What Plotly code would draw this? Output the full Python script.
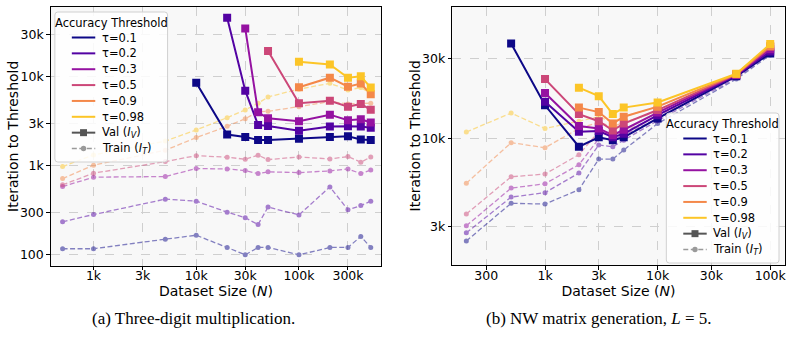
import plotly.graph_objects as go

# ---------------- data ----------------
taus = ["τ=0.1", "τ=0.2", "τ=0.3", "τ=0.5", "τ=0.9", "τ=0.98"]
colors = ["#0d0887", "#5302a3", "#9512a1", "#cc4778", "#f48849", "#fcc527"]

# (a) Three-digit multiplication
N_a = [500, 1000, 5000, 10000, 20000, 30000, 40000, 50000, 100000, 200000, 300000, 400000, 500000]
val_a_01 = [None, None, None, 8600, 2250, 2120, 1960, 1950, 2020, 2110, 2160, 1985, 1955]
val_a_02 = [None, None, None, None, 46400, 7020, 2890, 2810, 2480, 2770, 2800, 2770, 2690]
val_a_03 = [None, None, None, None, None, 35200, 4010, 3440, 3170, 3770, 3260, 3350, 3080]
val_a_05 = [None, None, None, None, None, None, None, 19600, 5060, 5390, 4640, 4980, 4270]
val_a_09 = [None, None, None, None, None, None, None, None, 7660, 9820, 7790, 8450, 6400]
val_a_098 = [None, None, None, None, None, None, None, None, 14800, 13800, 9800, 10200, 7600]
val_a = [val_a_01, val_a_02, val_a_03, val_a_05, val_a_09, val_a_098]

train_a_01 = [117, 117, 150, 166, 121, 100, 121, 121, 100, 121, 121, 161, 121]
train_a_02 = [235, 284, 423, 401, 302, 261, 219, 344, 281, 581, 321, 358, 401]
train_a_03 = [585, 747, 759, 933, 925, 886, 819, 857, 841, 879, 925, 819, 902]
train_a_05 = [612, 828, 1118, 1305, 1252, 1189, 1319, 1177, 1262, 1198, 1272, 1100, 1262]
train_a_09 = [720, 1018, 1500, 2080, 2790, 3400, 4070, 4110, 4640, 5280, 4980, 5070, 5070]
train_a_098 = [983, 1330, 1900, 2540, 3490, 4260, 5070, 5960, 7300, 8480, 7150, 7600, 6550]
train_a = [train_a_01, train_a_02, train_a_03, train_a_05, train_a_09, train_a_098]

# (b) NW matrix generation, L = 5
N_b = [200, 500, 1000, 2000, 3000, 4000, 5000, 10000, 50000, 100000]
val_b_01 = [None, 36800, 15800, 8960, 10200, 9800, 10200, 13200, 23500, 32100]
val_b_02 = [None, None, 16600, 11000, 11100, 10200, 10700, 13800, 23800, 33000]
val_b_03 = [None, None, 18700, 11900, 11500, 10500, 11300, 14300, 24000, 34000]
val_b_05 = [None, None, 22600, 14000, 12700, 11200, 12300, 14800, 24100, 35000]
val_b_09 = [None, None, None, 15300, 14400, 12300, 13500, 15500, 24200, 35500]
val_b_098 = [None, None, None, 20100, 17900, 14000, 15300, 16400, 24300, 36500]
val_b = [val_b_01, val_b_02, val_b_03, val_b_05, val_b_09, val_b_098]

train_b_01 = [2470, 4135, 4090, 4980, 7570, 7570, 8570, 12300, 22600, 31400]
train_b_02 = [2760, 4500, 4780, 6250, 9180, 8960, 9800, 12800, 23000, 32000]
train_b_03 = [3040, 5090, 5400, 7010, 10000, 9900, 10500, 13200, 23300, 32500]
train_b_05 = [3570, 5940, 6170, 8040, 11000, 10500, 11000, 13600, 23500, 33000]
train_b_09 = [5440, 9470, 8840, 11500, 12500, 11800, 12500, 14500, 23800, 34000]
train_b_098 = [10960, 14200, 11500, 12700, 13500, 12500, 13500, 15500, 24000, 35000]
train_b = [train_b_01, train_b_02, train_b_03, train_b_05, train_b_09, train_b_098]

xticks_a = [1000, 3000, 10000, 30000, 100000, 300000]
xticklabels_a = ["1k", "3k", "10k", "30k", "100k", "300k"]
yticks_a = [100, 300, 1000, 3000, 10000, 30000]
yticklabels_a = ["100", "300", "1k", "3k", "10k", "30k"]
xticks_b = [300, 1000, 3000, 10000, 30000, 100000]
xticklabels_b = ["300", "1k", "3k", "10k", "30k", "100k"]
yticks_b = [3000, 10000, 30000]
yticklabels_b = ["3k", "10k", "30k"]

legend_title = "Accuracy Threshold"
legend_val = "Val (<i>I<sub>V</sub></i>)"
legend_train = "Train (<i>I<sub>T</sub></i>)"
x_title = "Dataset Size (<i>N</i>)"
y_title = "Iteration to Threshold"
caption_a = "(a) Three-digit multiplication."
caption_b = "(b) NW matrix generation, <i>L</i> = 5."

FONT = "DejaVu Sans"
W, H = 793, 340
DASH = "5px,2.5px"
GRAY = "#555555"

fig = go.Figure()

def add_panel(N, vals, trains, xa, ya):
    for c, tr in zip(colors, trains):
        fig.add_trace(go.Scatter(
            x=N, y=tr, mode="lines+markers", xaxis=xa, yaxis=ya,
            line=dict(color=c, width=1.3, dash=DASH),
            marker=dict(symbol="circle", size=5, color=c),
            opacity=0.5, showlegend=False, hoverinfo="skip"))
    for c, v in zip(colors, vals):
        fig.add_trace(go.Scatter(
            x=N, y=v, mode="lines+markers", xaxis=xa, yaxis=ya,
            line=dict(color=c, width=2),
            marker=dict(symbol="square", size=8, color=c),
            connectgaps=False, showlegend=False, hoverinfo="skip"))

add_panel(N_a, val_a, train_a, "x", "y")
add_panel(N_b, val_b, train_b, "x2", "y2")

# ---- custom (compact, matplotlib-like) legend built in paper coordinates ----
shapes, annotations = [], []

def px(x):
    return x / W

def py(y):
    return 1 - y / H

def add_legend(x0, y0):
    bw, bh, r = 113, 150, 3
    x1, y1 = x0 + bw, y0 + bh
    rx, ry = r / W, r / H
    path = (f"M {px(x0)+rx},{py(y0)} L {px(x1)-rx},{py(y0)} Q {px(x1)},{py(y0)} {px(x1)},{py(y0)-ry} "
            f"L {px(x1)},{py(y1)+ry} Q {px(x1)},{py(y1)} {px(x1)-rx},{py(y1)} "
            f"L {px(x0)+rx},{py(y1)} Q {px(x0)},{py(y1)} {px(x0)},{py(y1)+ry} "
            f"L {px(x0)},{py(y0)-ry} Q {px(x0)},{py(y0)} {px(x0)+rx},{py(y0)} Z")
    shapes.append(dict(type="path", path=path, xref="paper", yref="paper",
                       fillcolor="rgba(255,255,255,0.85)", line=dict(color="#d0d0d0", width=1),
                       layer="above"))
    annotations.append(dict(text=legend_title, x=px(x0 + bw / 2), y=py(y0 + 11),
                            xref="paper", yref="paper", xanchor="center", yanchor="middle",
                            showarrow=False, font=dict(family=FONT, size=11.5, color="black")))
    labels = taus + [legend_val, legend_train]
    step = 15.86
    for i, lab in enumerate(labels):
        yc = y0 + 25.5 + i * step
        lx0, lx1 = x0 + 17, x0 + 40.5
        if i < len(taus):
            shapes.append(dict(type="line", xref="paper", yref="paper", layer="above",
                               x0=px(lx0), x1=px(lx1), y0=py(yc), y1=py(yc),
                               line=dict(color=colors[i], width=2)))
        elif lab == legend_val:
            shapes.append(dict(type="line", xref="paper", yref="paper", layer="above",
                               x0=px(lx0), x1=px(lx1), y0=py(yc), y1=py(yc),
                               line=dict(color=GRAY, width=2)))
            cx = (lx0 + lx1) / 2
            shapes.append(dict(type="rect", xref="paper", yref="paper", layer="above",
                               x0=px(cx - 3.5), x1=px(cx + 3.5), y0=py(yc + 3.5), y1=py(yc - 3.5),
                               fillcolor=GRAY, line=dict(width=0)))
        else:
            shapes.append(dict(type="line", xref="paper", yref="paper", layer="above",
                               x0=px(lx0), x1=px(lx1), y0=py(yc), y1=py(yc),
                               line=dict(color="#9a9a9a", width=1.3, dash=DASH)))
            cx = (lx0 + lx1) / 2
            shapes.append(dict(type="circle", xref="paper", yref="paper", layer="above",
                               x0=px(cx - 2.7), x1=px(cx + 2.7), y0=py(yc + 2.7), y1=py(yc - 2.7),
                               fillcolor="#9a9a9a", line=dict(width=0)))
        annotations.append(dict(text=lab, x=px(x0 + 45), y=py(yc),
                                xref="paper", yref="paper", xanchor="left", yanchor="middle",
                                showarrow=False, font=dict(family=FONT, size=11.5, color="black")))

add_legend(55, 12)
add_legend(668, 113)

TITLE_FONT = dict(family=FONT, size=14, color="black")
annotations += [
    dict(text=y_title, x=px(13), y=py(136), textangle=-90,
         xref="paper", yref="paper", xanchor="center", yanchor="middle", showarrow=False,
         font=TITLE_FONT),
    dict(text=y_title, x=px(416.5), y=py(136), textangle=-90,
         xref="paper", yref="paper", xanchor="center", yanchor="middle", showarrow=False,
         font=TITLE_FONT),
    dict(text=caption_a, x=px(194), y=py(318),
         xref="paper", yref="paper", xanchor="center", yanchor="middle", showarrow=False,
         font=dict(family="Liberation Serif", size=17, color="black")),
    dict(text=caption_b, x=px(601), y=py(318),
         xref="paper", yref="paper", xanchor="center", yanchor="middle", showarrow=False,
         font=dict(family="Liberation Serif", size=17, color="black")),
]

def axis_common():
    return dict(
        type="log", showline=True, mirror=True, linecolor="black", linewidth=1.2,
        ticks="outside", ticklen=3.5, tickcolor="black", tickwidth=1,
        showgrid=True, gridcolor="#cfcfcf", griddash="dash", gridwidth=0.8,
        zeroline=False, tickfont=dict(family=FONT, size=12.5, color="black"),
    )

fig.update_layout(
    width=W, height=H,
    margin=dict(l=0, r=0, t=0, b=0),
    paper_bgcolor="white", plot_bgcolor="#f8f8f8",
    font=dict(family=FONT, size=12, color="black"),
    showlegend=False,
    xaxis=dict(**axis_common(), domain=[51 / W, 382 / W], range=[2.585, 5.799],
               tickvals=xticks_a, ticktext=xticklabels_a, anchor="y", ticklabelstandoff=-5,
               title=dict(text=x_title, font=TITLE_FONT, standoff=0)),
    yaxis=dict(**axis_common(), domain=[1 - 265.5 / H, 1 - 7 / H], range=[1.880, 4.787],
               tickvals=yticks_a, ticktext=yticklabels_a, anchor="x"),
    xaxis2=dict(**axis_common(), domain=[453.5 / W, 786.5 / W], range=[2.177, 5.127],
                tickvals=xticks_b, ticktext=xticklabels_b, anchor="y2", ticklabelstandoff=-5,
                title=dict(text=x_title, font=TITLE_FONT, standoff=0)),
    yaxis2=dict(**axis_common(), domain=[1 - 265 / H, 1 - 6.7 / H], range=[3.25, 4.784],
                tickvals=yticks_b, ticktext=yticklabels_b, anchor="x2"),
    shapes=shapes,
    annotations=annotations,
)

fig.write_html("out.html")
